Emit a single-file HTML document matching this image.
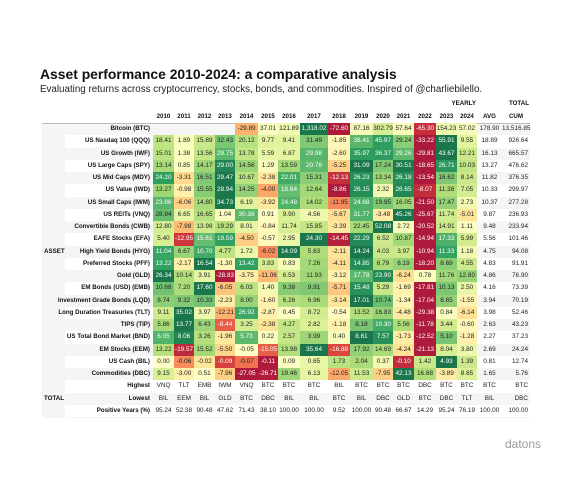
<!DOCTYPE html>
<html><head><meta charset="utf-8"><style>
body{margin:0;background:#fff;width:572px;height:490px;overflow:hidden;font-family:"Liberation Sans",sans-serif;position:relative}
.a{position:absolute;white-space:nowrap}
.c{position:absolute;font-size:6.4px;line-height:12.25px;text-align:center;color:#222;white-space:nowrap}
.l{position:absolute;font-size:6.2px;font-weight:bold;line-height:12.25px;text-align:right;color:#111;white-space:nowrap}
</style></head><body>
<div class="a" style="left:40px;top:66px;font-size:13.9px;font-weight:bold;color:#111">Asset performance 2010-2024: a comparative analysis</div>
<div class="a" style="left:40px;top:84px;font-size:9.8px;color:#222">Evaluating returns across cryptocurrency, stocks, bonds, and commodities. Inspired of @charliebilello.</div>
<div id="tbl"></div>
<div class="a" style="left:505px;top:437px;font-size:12px;color:#999">datons</div>
<script>
const years=["2010","2011","2012","2013","2014","2015","2016","2017","2018","2019","2020","2021","2022","2023","2024"];
const assets=["Bitcoin (BTC)","US Nasdaq 100 (QQQ)","US Growth (IWF)","US Large Caps (SPY)","US Mid Caps (MDY)","US Value (IWD)","US Small Caps (IWM)","US REITs (VNQ)","Convertible Bonds (CWB)","EAFE Stocks (EFA)","High Yield Bonds (HYG)","Preferred Stocks (PFF)","Gold (GLD)","EM Bonds (USD) (EMB)","Investment Grade Bonds (LQD)","Long Duration Treasuries (TLT)","TIPS (TIP)","US Total Bond Market (BND)","EM Stocks (EEM)","US Cash (BIL)","Commodities (DBC)"];
const returns=[
[null,null,null,null,-29.89,37.01,121.89,1318.02,-72.60,87.16,302.79,57.64,-65.30,154.23,57.02],
[18.41,1.89,15.89,32.43,20.12,9.77,9.41,31.49,-1.85,38.41,45.97,29.24,-33.22,55.91,9.55],
[15.01,1.38,13.56,29.75,13.78,5.59,6.87,29.98,-2.60,35.97,36.37,29.26,-29.81,43.67,12.21],
[13.14,0.85,14.17,29.00,14.56,1.29,13.59,20.78,-5.25,31.09,17.24,30.51,-18.65,26.71,10.03],
[24.20,-3.31,16.51,29.47,10.67,-2.38,22.01,15.31,-12.13,26.23,13.34,26.18,-13.54,16.62,8.14],
[13.27,-0.98,15.55,28.94,14.25,-4.00,18.64,12.64,-8.86,26.15,2.32,26.65,-8.07,11.38,7.05],
[23.86,-6.06,14.80,34.73,6.19,-3.92,24.48,14.02,-11.95,24.68,19.95,16.05,-21.50,17.47,2.73],
[28.94,6.65,16.65,1.04,30.38,0.91,9.90,4.56,-5.67,31.77,-3.48,45.26,-25.67,11.74,-5.01],
[12.80,-7.98,13.98,19.29,8.01,-0.84,11.74,15.85,-3.39,22.45,52.08,2.72,-20.52,14.91,1.11],
[5.40,-12.95,15.61,19.59,-4.50,-0.57,2.95,24.30,-14.45,22.29,6.52,10.87,-14.94,17.33,5.99],
[11.04,6.67,10.70,4.77,1.72,-6.02,14.09,5.63,-2.11,14.24,4.03,3.97,-10.94,11.33,1.18],
[13.22,-2.17,16.54,-1.30,13.42,3.83,0.83,7.26,-4.11,14.85,6.79,8.19,-18.20,8.69,4.55],
[26.34,10.14,3.91,-28.83,-3.75,-11.06,6.53,11.93,-3.12,17.78,23.90,-6.24,0.78,11.76,12.80],
[10.68,7.20,17.60,-6.05,6.03,1.40,9.38,9.91,-5.71,15.48,5.29,-1.69,-17.81,10.13,2.50],
[8.74,9.32,10.33,-2.23,8.00,-1.60,6.26,6.96,-3.14,17.01,10.74,-1.34,-17.04,8.65,-1.55],
[9.11,35.02,3.97,-12.21,26.92,-2.87,0.45,8.72,-0.54,13.52,16.83,-4.48,-29.38,0.84,-6.14],
[5.86,13.77,6.43,-8.44,3.25,-2.38,4.27,2.82,-1.18,8.18,10.30,5.56,-11.78,3.44,-0.60],
[6.05,8.06,3.26,-1.96,5.73,0.22,2.57,3.99,0.40,8.61,7.57,-1.73,-12.52,5.10,-1.28],
[13.22,-19.57,15.52,-5.50,-0.05,-15.05,13.98,35.64,-16.88,17.92,14.69,-4.24,-21.13,8.04,3.80],
[0.00,-0.06,-0.02,-0.09,-0.07,-0.11,0.09,0.65,1.73,2.04,0.37,-0.10,1.42,4.93,1.39],
[9.15,-3.00,0.51,-7.96,-27.05,-26.71,19.46,6.13,-12.05,11.53,-7.95,42.13,16.88,-3.89,8.65]];
const avgVals=[178.90,18.89,16.13,13.27,11.82,10.33,10.37,9.87,9.48,5.56,4.75,4.83,4.86,4.16,3.94,3.98,2.63,2.27,2.69,0.81,1.65];
const cumVals=["13,516.85","926.64","665.57","476.62","376.35","299.97","277.28","236.93","233.94","101.46","94.08","91.91","76.90","73.39","70.19","52.46","43.23","37.23","24.24","12.74","5.76"];
const highest=["VNQ","TLT","EMB","IWM","VNQ","BTC","BTC","BTC","BIL","BTC","BTC","BTC","DBC","BTC","BTC","BTC","BTC"];
const lowest=["BIL","EEM","BIL","GLD","BTC","DBC","BIL","BIL","BTC","BIL","DBC","GLD","BTC","DBC","TLT","BIL","DBC"];
const positive=["95.24","52.38","90.48","47.62","71.43","38.10","100.00","100.00","9.52","100.00","90.48","66.67","14.29","95.24","76.19","100.00","100.00"];

const edges=[153,174,194,215,235,258,278,300,328,350,373,393,414,436,457,477,502,530];
const rowH=12.25, top0=123.2, tblL=42, labelL=65;
const stops=[[165,0,38],[215,48,39],[244,109,67],[253,174,97],[254,224,139],[255,255,191],[217,239,139],[166,217,106],[102,189,99],[26,152,80],[0,104,55]];
function cmap(t){t=Math.max(0,Math.min(1,t));const p=t*10,i=Math.min(9,Math.floor(p)),f=p-i;const a=stops[i],b=stops[i+1];
 const c=a.map((v,k)=>Math.round((v+(b[k]-v)*f)*0.9+255*0.1));return 'rgb('+c.join(',')+')';}
const T=document.getElementById('tbl');
function add(cls,txt,l,t,w,style){const d=document.createElement('div');d.className=cls;d.textContent=txt;d.style.left=l+'px';d.style.top=t+'px';d.style.width=w+'px';d.style.height=rowH+'px';if(style)d.style.cssText+=style;T.appendChild(d);return d;}
function bg(l,t,w,h,col){const d=document.createElement('div');d.className='a';d.style.cssText=`left:${l}px;top:${t}px;width:${w}px;height:${h}px;background:${col}`;T.appendChild(d);return d;}
let b=bg(tblL,123,530-tblL,24*rowH+1,'#f5f5f5');


let h=add('l','YEARLY',436,98,40,'text-align:right');


h=add('l','TOTAL',502,98,27,'text-align:right');


const hdrs=years.concat(['AVG','CUM']);
hdrs.forEach((y,j)=>{const d=add('l',y,edges[j],110.5,edges[j+1]-edges[j],'text-align:center');
 
 });
let ln=bg(tblL,122.5,530-tblL,0.8,'#bbb');


assets.forEach((name,i)=>{const t=top0+i*rowH;
 if(i%2==1){const w=bg(labelL,t,530-labelL,rowH,'#fff');}
 const lb=add('l',name,40,t,110);
 
 
 const vals=returns[i].filter(v=>v!==null);const mn=Math.min(...vals),mx=Math.max(...vals);
 returns[i].forEach((v,j)=>{if(v===null)return;
  const tt=v<0?0.5-0.5*(v/mn):0.5+0.5*(v/mx);
  const c=add('c',v.toFixed(2).replace(/\B(?=(\d{3})+(?!\d))/g,','),edges[j],t,edges[j+1]-edges[j],'background:'+cmap(tt)+';color:'+((tt<0.15||tt>0.82)?'#fff':'#222'));
  
  });
 let a=add('c',avgVals[i].toFixed(2),edges[15],t,edges[16]-edges[15]);
 
 
 a=add('c',cumVals[i],edges[16],t,edges[17]-edges[16]-2,'text-align:right');
 
 });
let g=add('l','ASSET',tblL+2,top0+10*rowH,24,'text-align:left');


const totals=[['Highest',highest],['Lowest',lowest],['Positive Years (%)',positive]];
totals.forEach((r,k)=>{const i=21+k,t=top0+i*rowH;
 if(k!=1){const w=bg(labelL,t,530-labelL,rowH,'#fff');}
 const lb=add('l',r[0],70,t,80);
 
 
 r[1].forEach((v,j)=>{const c=add('c',v,edges[j],t,edges[j+1]-edges[j]-(j==16?2:0),j==16?'text-align:right':'');
  
  });});
g=add('l','TOTAL',tblL+2,top0+22*rowH,24,'text-align:left');


</script>
</body></html>
